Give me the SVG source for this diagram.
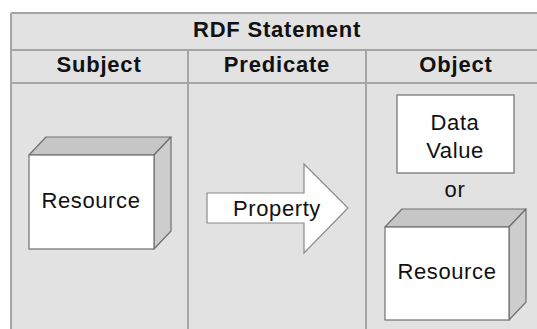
<svg xmlns="http://www.w3.org/2000/svg" width="537" height="329" viewBox="0 0 537 329">
<style>
.grid{stroke:#a6a6a6;stroke-width:2;fill:none}
.bold{font-family:"Liberation Sans",Arial,sans-serif;font-weight:bold;font-size:22px;letter-spacing:0.8px;fill:#111;text-anchor:middle}
.reg{font-family:"Liberation Sans",Arial,sans-serif;font-size:22px;letter-spacing:0.6px;fill:#111;text-anchor:middle}
.front{fill:#ffffff;stroke:#707070;stroke-width:1.2}
.top{fill:#c6c6c6;stroke:#707070;stroke-width:1.2;stroke-linejoin:round}
.side{fill:#cdcdcd;stroke:#707070;stroke-width:1.2;stroke-linejoin:round}
</style>
<rect x="0" y="0" width="537" height="329" fill="#ffffff"/>
<g id="table">
<rect x="11" y="13" width="540" height="330" fill="#e2e2e2"/>
<path class="grid" d="M11 13 H545 M11 13 V329 M11 50 H545 M11 83 H545 M188 50 V329 M366 50 V329"/>
<text class="bold" x="277" y="37">RDF Statement</text>
<text class="bold" x="99" y="72">Subject</text>
<text class="bold" x="277" y="72">Predicate</text>
<text class="bold" x="456" y="72">Object</text>
</g>
<g id="subject-resource">
<polygon class="top" points="29,155 46,137 171,137 154,155"/>
<polygon class="side" points="154,155 171,137 171,231 154,249"/>
<rect class="front" x="29" y="155" width="125" height="94"/>
<text class="reg" x="91" y="208">Resource</text>
</g>
<g id="property">
<polygon points="207,193 304,193 304,164 348,208 304,253 304,223 207,223" fill="#ffffff" stroke="#8a8a8a" stroke-width="1.2" stroke-linejoin="miter"/>
<text class="reg" x="277" y="216">Property</text>
</g>
<g id="data-value">
<rect class="front" x="397" y="95" width="117" height="78" stroke="#8a8a8a"/>
<text class="reg" x="455" y="130">Data</text>
<text class="reg" x="455" y="158">Value</text>
</g>
<g id="or-label">
<text class="reg" x="455" y="197">or</text>
</g>
<g id="object-resource">
<polygon class="top" points="385,227 402,209 526,209 509,227"/>
<polygon class="side" points="509,227 526,209 526,302 509,320"/>
<rect class="front" x="385" y="227" width="124" height="93"/>
<text class="reg" x="447" y="279">Resource</text>
</g>
<g id="connectors"></g>
</svg>
